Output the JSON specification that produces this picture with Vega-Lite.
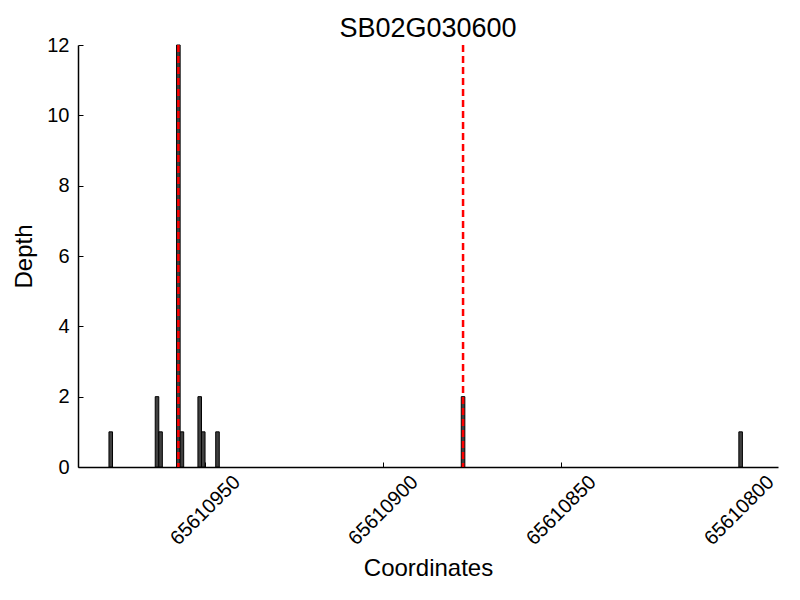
{
  "$schema": "https://vega.github.io/schema/vega-lite/v6.json",
  "autosize": "none",
  "width": 700,
  "height": 422,
  "padding": {"left": 78, "top": 45, "right": 22, "bottom": 133},
  "background": "white",
  "title": {"text": "SB02G030600", "fontSize": 27, "fontWeight": "normal", "font": "Liberation Sans", "color": "black", "anchor": "middle", "offset": -2, "dy": 6},
  "config": {
    "view": {"stroke": null},
    "axis": {
      "domainColor": "black", "domainWidth": 1.5, "tickColor": "black", "tickWidth": 1,
      "labelColor": "black", "titleColor": "black", "labelFont": "Liberation Sans", "titleFont": "Liberation Sans",
      "grid": false, "labelFontSize": 20, "titleFontSize": 24, "titleFontWeight": "normal",
      "labelOverlap": false, "labelFlush": false
    }
  },
  "layer": [
    {
      "data": {"values": [
        {"start": 65610976, "end": 65610977, "depth": 1},
        {"start": 65610963, "end": 65610964, "depth": 2},
        {"start": 65610962, "end": 65610963, "depth": 1},
        {"start": 65610957, "end": 65610958, "depth": 12},
        {"start": 65610956, "end": 65610957, "depth": 1},
        {"start": 65610951, "end": 65610952, "depth": 2},
        {"start": 65610950, "end": 65610951, "depth": 1},
        {"start": 65610946, "end": 65610947, "depth": 1},
        {"start": 65610877, "end": 65610878, "depth": 2},
        {"start": 65610799, "end": 65610800, "depth": 1}
      ]},
      "mark": {"type": "bar", "orient": "vertical", "fill": "#404040", "stroke": "black", "strokeWidth": 1},
      "encoding": {
        "x": {"field": "start", "type": "quantitative",
          "scale": {"domain": [65610789, 65610985.7], "reverse": true, "nice": false, "zero": false, "padding": 0},
          "axis": {"title": "Coordinates", "values": [65610800, 65610850, 65610900, 65610950], "format": "d",
            "labelAngle": -45, "labelAlign": "center", "labelBaseline": "middle", "labelPadding": 48,
            "tickSize": -5, "titlePadding": 8}},
        "x2": {"field": "end"},
        "y": {"field": "depth", "type": "quantitative",
          "scale": {"domain": [0, 12], "nice": false, "padding": 0},
          "axis": {"title": "Depth", "values": [0, 2, 4, 6, 8, 10, 12], "tickSize": -5, "labelPadding": 14, "titlePadding": 10}},
        "y2": {"datum": 0}
      }
    },
    {
      "data": {"values": [
        {"pos": 65610957.5},
        {"pos": 65610877.5}
      ]},
      "mark": {"type": "rule", "color": "#ff0000", "strokeWidth": 2.5, "strokeDash": [7, 4]},
      "encoding": {
        "x": {"field": "pos", "type": "quantitative"}
      }
    }
  ]
}
